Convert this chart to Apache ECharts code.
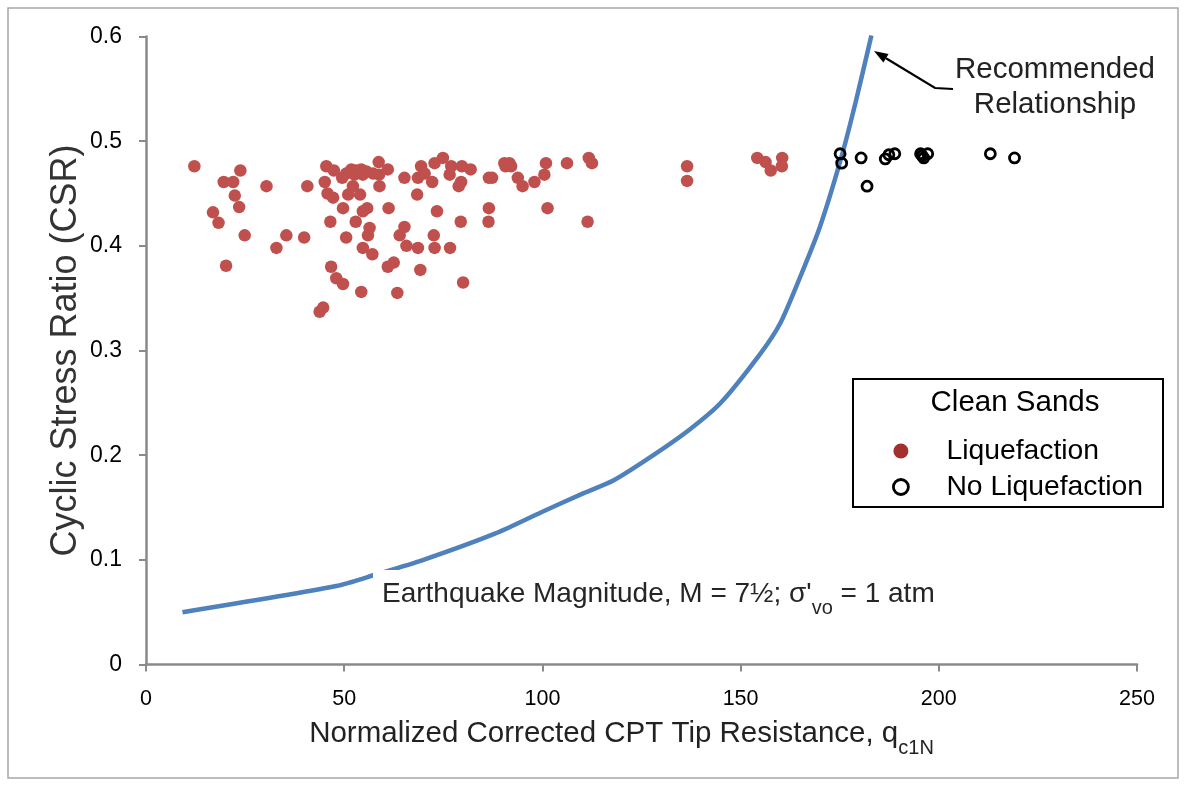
<!DOCTYPE html>
<html>
<head>
<meta charset="utf-8">
<script src="https://cdn.jsdelivr.net/npm/echarts@6/dist/echarts.min.js"></script>
<style>
html,body{margin:0;padding:0;background:#fff;}
#chart{width:1184px;height:785px;}
</style>
</head>
<body>
<div id="chart"></div>
<script>
// ---- Data ----
const curveX = [9.2, 48, 58, 70, 88, 100, 110, 118, 128, 137, 145, 155, 160, 165, 170, 175.3, 179, 183];
const curveY = [0.050, 0.075, 0.086, 0.100, 0.125, 0.146, 0.163, 0.176, 0.200, 0.224, 0.250, 0.297, 0.326, 0.370, 0.418, 0.483, 0.537, 0.601];

const liqX = [12.2, 23.8, 19.6, 22.0, 30.4, 22.4, 23.5, 16.9, 18.3, 24.9, 35.4, 32.9, 39.9, 20.2, 40.7, 45.5, 47.4, 45.1, 45.8, 47.2, 46.5, 46.7, 48.0, 43.8, 44.7,
  49.7, 49.7, 51.0, 54.0, 52.2, 49.5, 51.8, 53.0, 54.3, 55.6, 50.5, 52.6, 54.7, 58.7, 57.3, 58.8, 61.0, 58.9, 52.9, 54.7, 55.8, 50.5, 56.4, 56.0, 54.7, 57.1, 54.3,
  61.2, 65.2, 64.0, 65.7, 68.6, 61.0, 62.5, 63.4, 69.2, 68.4, 65.2, 68.6, 70.3, 69.4, 72.2, 72.8, 74.9, 73.4, 72.6, 72.8, 76.7, 77.0, 79.7, 81.9, 76.6, 79.5, 78.9,
  79.4, 80.0, 86.5, 87.3, 86.5, 86.4, 90.4, 91.7, 92.1, 90.7, 93.8, 95.0, 98.0, 100.5, 100.9, 101.3, 106.2, 111.7, 112.5, 111.4,
  136.5, 136.5, 154.2, 156.3, 157.6, 160.5, 160.4];
const liqY = [0.476, 0.472, 0.461, 0.461, 0.457, 0.448, 0.437, 0.432, 0.422, 0.410, 0.410, 0.398, 0.408, 0.381, 0.457, 0.476, 0.472, 0.461, 0.450, 0.446, 0.423, 0.380, 0.369, 0.337, 0.341,
  0.3635, 0.436, 0.449, 0.449, 0.457, 0.465, 0.473, 0.472, 0.473, 0.471, 0.469, 0.468, 0.468, 0.480, 0.469, 0.468, 0.473, 0.457, 0.423, 0.433, 0.436, 0.408, 0.417, 0.410, 0.398, 0.392, 0.356,
  0.436, 0.418, 0.410, 0.400, 0.398, 0.380, 0.384, 0.355, 0.377, 0.449, 0.465, 0.465, 0.469, 0.476, 0.461, 0.479, 0.484, 0.433, 0.410, 0.398, 0.398, 0.476, 0.476, 0.473, 0.468, 0.461, 0.457,
  0.423, 0.365, 0.465, 0.465, 0.436, 0.423, 0.479, 0.479, 0.476, 0.476, 0.465, 0.457, 0.461, 0.468, 0.479, 0.436, 0.479, 0.484, 0.479, 0.423,
  0.476, 0.462, 0.484, 0.480, 0.472, 0.484, 0.476];

const noLiqX = [175.1, 175.5, 180.4, 181.9, 186.5, 187.4, 188.9, 195.4, 196.2, 197.2, 195.8, 213.0, 219.1];
const noLiqY = [0.488, 0.479, 0.484, 0.457, 0.483, 0.487, 0.488, 0.488, 0.484, 0.488, 0.486, 0.488, 0.484];

const xTicks = [0, 50, 100, 150, 200, 250];
const yTickLabels = ['0', '0.1', '0.2', '0.3', '0.4', '0.5', '0.6'];

const seriesNames = ['Liquefaction', 'No Liquefaction', 'Recommended Relationship'];
const legendTitle = 'Clean Sands';
const xTitle = 'Normalized Corrected CPT Tip Resistance, q';
const xTitleSub = 'c1N';
const yTitle = 'Cyclic Stress Ratio (CSR)';
const noteMain = "Earthquake Magnitude, M = 7½; σ'";
const noteSub = 'vo';
const noteEnd = ' = 1 atm';
const arrowText = 'Recommended\nRelationship';

// ---- Build ----
const zip = (a, b) => a.map((v, i) => [v, b[i]]);
const FONT = '"Liberation Sans", Arial, sans-serif';

const chart = echarts.init(document.getElementById('chart'), null, {renderer: 'canvas'});

// arrow geometry (annotation, pixel space)
const tip = [874, 51], tail = [935, 88], tailEnd = [953, 89];
const dx = tip[0] - tail[0], dy = tip[1] - tail[1];
const len = Math.hypot(dx, dy), ux = dx / len, uy = dy / len;
const hl = 14, hw = 5;
const bx = tip[0] - ux * hl, by = tip[1] - uy * hl;
const head = [[tip[0], tip[1]], [bx - uy * hw, by + ux * hw], [bx + uy * hw, by - ux * hw]];

const option = {
  backgroundColor: '#fff',
  animation: false,
  grid: {left: 146, right: 47, top: 36.5, bottom: 120.5, containLabel: false},
  xAxis: {
    type: 'value', min: 0, max: 250, interval: 50,
    axisLine: {show: true, lineStyle: {color: '#8a8a8a', width: 2.5}},
    axisTick: {show: true, length: 7, lineStyle: {color: '#8a8a8a', width: 2}},
    axisLabel: {fontFamily: FONT, fontSize: 21.5, color: '#000', margin: 24,
      formatter: v => xTicks.indexOf(v) >= 0 ? String(v) : ''},
    splitLine: {show: false},
    name: '{m|' + xTitle + '}{s|' + xTitleSub + '}',
    nameLocation: 'middle', nameGap: 54, nameMoveOverlap: false,
    nameTextStyle: {
      padding: [0, 40, 0, 0],
      rich: {
        m: {fontFamily: FONT, fontSize: 29.5, color: '#222', lineHeight: 40, verticalAlign: 'top'},
        s: {fontFamily: FONT, fontSize: 20, color: '#222', lineHeight: 20, verticalAlign: 'bottom'}
      }
    }
  },
  yAxis: {
    type: 'value', min: 0, max: 0.6, interval: 0.1,
    axisLine: {show: true, lineStyle: {color: '#8a8a8a', width: 2.5}},
    axisTick: {show: true, length: 7, lineStyle: {color: '#8a8a8a', width: 2}},
    axisLabel: {fontFamily: FONT, fontSize: 23, color: '#000', margin: 24,
      formatter: v => yTickLabels[Math.round(v * 10)]},
    splitLine: {show: false},
    name: yTitle, nameLocation: 'middle', nameRotate: 90, nameGap: 46, nameMoveOverlap: false,
    nameTextStyle: {fontFamily: FONT, fontSize: 36, color: '#333', backgroundColor: '#fff',
      padding: [0, 0, 15, 0], lineHeight: 38}
  },
  legend: {
    show: true, orient: 'vertical', left: 887, top: 431,
    itemWidth: 15, itemHeight: 15, itemGap: 6, icon: 'circle',
    data: [
      {name: seriesNames[0], itemStyle: {color: '#A3302C'}},
      {name: seriesNames[1], itemStyle: {color: 'rgba(255,255,255,0)', borderColor: '#000', borderWidth: 2.8}}
    ],
    textStyle: {fontFamily: FONT, fontSize: 28.3, color: '#000', lineHeight: 30, padding: [0, 0, 0, 33]}
  },
  series: [
    {
      name: seriesNames[2], type: 'line', data: zip(curveX, curveY),
      showSymbol: false, smooth: 0.25, z: 2,
      lineStyle: {color: '#4F81BD', width: 4.5}, itemStyle: {color: '#4F81BD'}
    },
    {
      name: seriesNames[0], type: 'scatter', data: zip(liqX, liqY), symbol: 'circle', symbolSize: 12.5, z: 3,
      itemStyle: {color: '#C0504D', opacity: 1}
    },
    {
      name: seriesNames[1], type: 'scatter', data: zip(noLiqX, noLiqY), symbol: 'circle', symbolSize: 10, z: 4,
      itemStyle: {color: 'rgba(255,255,255,0)', borderColor: '#000', borderWidth: 2.8, opacity: 1}
    }
  ],
  graphic: [
    {type: 'rect', z: 0, silent: true, shape: {x: 8, y: 8, width: 1170, height: 770},
      style: {fill: null, stroke: '#a8a8a8', lineWidth: 1.5}},
    {type: 'rect', z: 20, silent: true, shape: {x: 853, y: 379, width: 310, height: 128},
      style: {fill: null, stroke: '#000', lineWidth: 2}},
    {type: 'text', z: 20, silent: true, x: 1015, y: 403,
      style: {text: legendTitle, font: '29.5px ' + FONT, fill: '#000', align: 'center', verticalAlign: 'middle'}},
    {type: 'text', z: 30, silent: true, x: 373, y: 570,
      style: {
        text: '{a|' + noteMain + '}{b|' + noteSub + '}{a|' + noteEnd + '}',
        backgroundColor: '#fff', padding: [10, 6, 2, 9],
        rich: {
          a: {fontFamily: FONT, fontSize: 28, fill: '#262626', lineHeight: 38, verticalAlign: 'top'},
          b: {fontFamily: FONT, fontSize: 20, fill: '#262626', lineHeight: 20, verticalAlign: 'bottom'}
        }
      }},
    {type: 'text', z: 20, silent: true, x: 1055, y: 87,
      style: {text: arrowText, font: '29.5px ' + FONT, fill: '#222', align: 'center', verticalAlign: 'middle', lineHeight: 35}},
    {type: 'polyline', z: 20, silent: true, shape: {points: [tailEnd, tail, [bx, by]]},
      style: {stroke: '#000', lineWidth: 2.2, fill: null}},
    {type: 'polygon', z: 20, silent: true, shape: {points: head}, style: {fill: '#000'}}
  ]
};
chart.setOption(option);
</script>
</body>
</html>
